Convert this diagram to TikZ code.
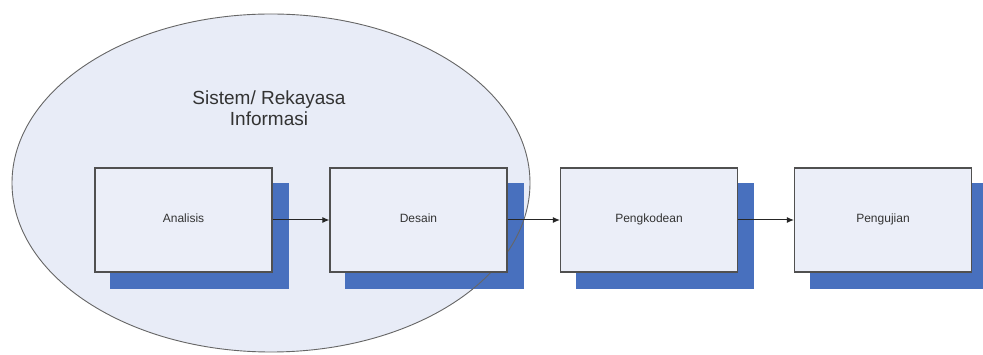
\documentclass[tikz,border=0pt]{standalone}
\usepackage{fontspec}
\setmainfont{Liberation Sans}
\usetikzlibrary{arrows.meta}
\definecolor{ellfill}{HTML}{E8ECF7}
\definecolor{boxfill}{HTML}{EBEEF8}
\definecolor{shadowblue}{HTML}{4870BE}
\definecolor{boxline}{HTML}{505050}
\definecolor{txt}{HTML}{333333}
\pgfdeclarelayer{bg}
\pgfsetlayers{bg,main}
\tikzset{
  stepbox/.style={draw=boxline, line width=1.2pt, fill=boxfill, minimum width=177pt, minimum height=104pt, inner sep=0pt, text=txt, text height=1.6ex, text depth=0.5ex, font=\fontsize{12}{14}\selectfont},
  flow/.style={draw=black!85, line width=1pt, -{Latex[length=7pt,width=6pt]}},
  shadowbox/.style={fill=shadowblue},
  ellline/.style={draw=black!60, line width=0.9pt}
}
\begin{document}
\begin{tikzpicture}[x=1pt,y=-1pt]
\useasboundingbox (0,0) rectangle (983,355);
\node[stepbox] (a) at (183.5,220) {Analisis};
\node[stepbox] (d) at (418.5,220) {Desain};
\node[stepbox] (p) at (649,220) {Pengkodean};
\node[stepbox] (u) at (883,220) {Pengujian};
\begin{pgfonlayer}{bg}
  \fill[white] (0,0) rectangle (983,355);
  \fill[ellfill] (271,183) ellipse [x radius=259, y radius=169];
  \foreach \n in {a,d,p,u}{
    \fill[shadowbox] ([shift={(16pt,-16pt)}]\n.north west) rectangle ([shift={(16pt,-16pt)}]\n.south east);
  }
  \draw[ellline] (271,183) ellipse [x radius=259, y radius=169];
\end{pgfonlayer}
\node[text=txt, font=\fontsize{19}{21}\selectfont, align=center] (t) at (269,108) {Sistem/ Rekayasa\\Informasi};
\draw[flow] (a) -- (d);
\draw[flow] (d) -- (p);
\draw[flow] (p) -- (u);
\end{tikzpicture}
\end{document}
